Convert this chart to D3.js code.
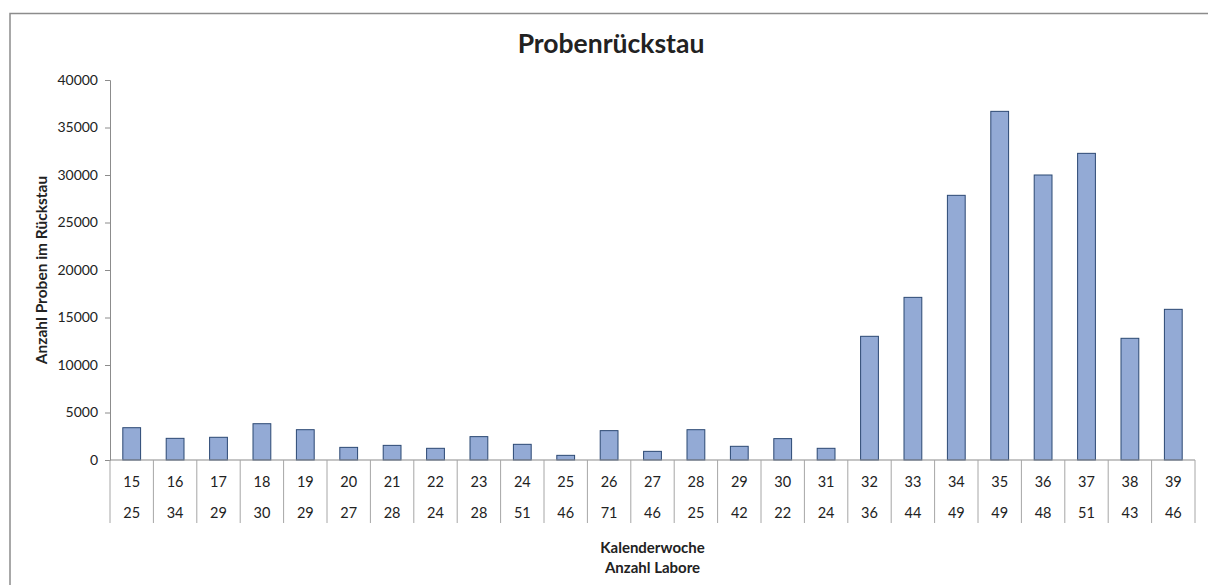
<!DOCTYPE html>
<html>
<head>
<meta charset="utf-8">
<script src="https://cdn.jsdelivr.net/npm/d3@7"></script>
<style>
  body { margin: 0; background: #fff; }
  svg text { font-family: Lato, "Open Sans", sans-serif; fill: #222; }
</style>
</head>
<body>
<svg id="chart" width="1208" height="585"></svg>
<script>
// Kalenderwoche
const weeks = ['15','16','17','18','19','20','21','22','23','24','25','26','27',
  '28','29','30','31','32','33','34','35','36','37','38','39'];
// Anzahl Labore
const labs = ['25','34','29','30','29','27','28','24','28','51','46','71','46',
  '25','42','22','24','36','44','49','49','48','51','43','46'];
// Proben im Rückstau
const backlog = [3400, 2280, 2390, 3820, 3190, 1330, 1540, 1230, 2460, 1650, 490, 3090, 910,
  3190, 1440, 2250, 1230, 13020, 17120, 27860, 36700, 30000, 32280, 12810, 15860];
const yTicks = [0, 5000, 10000, 15000, 20000, 25000, 30000, 35000, 40000];

const svg = d3.select('#chart');
const plotL = 110, plotR = 1195, plotT = 80, plotB = 460;
const gray = '#8c8c8c';

// chart frame
svg.append('path')
    .attr('d', `M10,600V13.5H1220`)
    .attr('fill', 'none')
    .attr('stroke', gray)
    .attr('stroke-width', 1.5);

const x = d3.scaleBand().domain(weeks).range([plotL, plotR]).padding(0);
const y = d3.scaleLinear().domain([0, 40000]).range([plotB, plotT]);

// y axis
const yAxis = svg.append('g')
    .attr('transform', `translate(${plotL},0)`)
    .call(d3.axisLeft(y).tickValues(yTicks).tickSize(5).tickPadding(7).tickFormat(d3.format('d')));
yAxis.select('.domain').attr('stroke', gray);
yAxis.selectAll('.tick line').attr('stroke', gray);
yAxis.selectAll('.tick text').attr('font-size', 14).attr('fill', '#222')
    .style('font-family', 'Lato, sans-serif');

// bars
const barW = x.bandwidth() * 0.41;
svg.append('g').selectAll('rect')
    .data(backlog)
    .join('rect')
    .attr('x', (d, i) => x(weeks[i]) + (x.bandwidth() - barW) / 2)
    .attr('y', d => y(d))
    .attr('width', barW)
    .attr('height', d => y(0) - y(d))
    .attr('fill', '#93aad5')
    .attr('stroke', '#2b4873')
    .attr('stroke-width', 1);

// category table below the axis
const table = svg.append('g');
table.append('line')
    .attr('x1', plotL).attr('x2', plotR)
    .attr('y1', plotB).attr('y2', plotB)
    .attr('stroke', gray).attr('stroke-width', 1.2);

const bounds = weeks.map(w => x(w)).concat([plotR]);
table.selectAll('line.sep')
    .data(bounds)
    .join('line')
    .attr('class', 'sep')
    .attr('x1', d => d).attr('x2', d => d)
    .attr('y1', plotB).attr('y2', 523)
    .attr('stroke', '#a6a6a6');

table.selectAll('text.wk')
    .data(weeks)
    .join('text')
    .attr('class', 'wk')
    .attr('x', d => x(d) + x.bandwidth() / 2)
    .attr('y', 487)
    .attr('text-anchor', 'middle')
    .attr('font-size', 14.5)
    .text(d => d);

table.selectAll('text.lab')
    .data(labs)
    .join('text')
    .attr('class', 'lab')
    .attr('x', (d, i) => x(weeks[i]) + x.bandwidth() / 2)
    .attr('y', 518)
    .attr('text-anchor', 'middle')
    .attr('font-size', 14.5)
    .text(d => d);

// titles
svg.append('text')
    .attr('x', 611).attr('y', 53)
    .attr('text-anchor', 'middle')
    .attr('font-size', 26.5)
    .attr('font-weight', 'bold')
    .text('Probenrückstau');

svg.append('text')
    .attr('transform', `translate(47,${(plotT + plotB) / 2}) rotate(-90)`)
    .attr('text-anchor', 'middle')
    .attr('font-size', 15.5)
    .attr('font-weight', 'bold')
    .text('Anzahl Proben im Rückstau');

svg.append('text')
    .attr('x', (plotL + plotR) / 2).attr('y', 553)
    .attr('text-anchor', 'middle')
    .attr('font-size', 15)
    .attr('font-weight', 'bold')
    .text('Kalenderwoche');

svg.append('text')
    .attr('x', (plotL + plotR) / 2).attr('y', 573)
    .attr('text-anchor', 'middle')
    .attr('font-size', 15)
    .attr('font-weight', 'bold')
    .text('Anzahl Labore');
</script>
</body>
</html>
